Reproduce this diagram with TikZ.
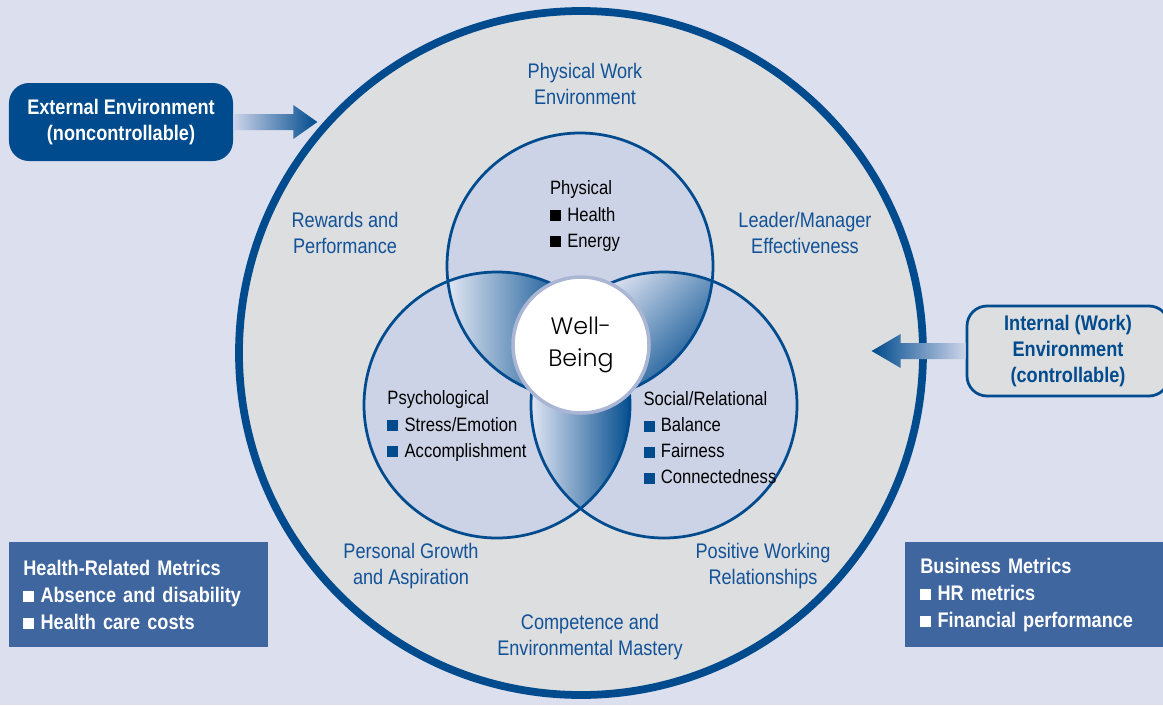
\documentclass[tikz,border=0pt]{standalone}
\usepackage{fontspec}
\setmainfont{Liberation Sans}[FakeStretch=0.86]
\newfontfamily\wbfont{Poppins Light}
\usetikzlibrary{positioning}

\definecolor{bglav}{RGB}{220,223,238}
\definecolor{ringgray}{RGB}{221,222,224}
\definecolor{ringblue}{RGB}{0,75,141}
\definecolor{vennfill}{RGB}{204,211,230}
\definecolor{labelblue}{RGB}{18,82,152}
\definecolor{metricblue}{RGB}{64,102,160}
\definecolor{wbborder}{RGB}{170,182,212}
\definecolor{lenslight}{RGB}{226,230,243}
\definecolor{arrowlight}{RGB}{205,212,234}

% small square bullet
\newcommand{\sqbul}[1]{{\color{#1}\rule{6.3pt}{6.3pt}}\hspace{3.5pt}}

\tikzset{
  ringlabel/.style={text=labelblue, align=center, font=\fontsize{12}{14.8}\selectfont},
  venntext/.style={align=left, inner sep=0pt, font=\fontsize{11}{14.8}\selectfont},
  vennring/.style={draw=ringblue, line width=0.55mm},
  metricbox/.style={fill=metricblue, text=white, align=left, anchor=north west,
    minimum height=21mm, inner xsep=2.8mm, font=\bfseries\fontsize{12}{15.4}\selectfont},
  envbox/.style={rounded corners=4mm, align=center, font=\bfseries\fontsize{12}{14.8}\selectfont},
}

\begin{document}
\begin{tikzpicture}[x=0.2mm,y=-0.2mm]
  \useasboundingbox[fill=bglav] (0,0) rectangle (1163,705);
  \clip (0,0) rectangle (1163,705);

  % outer ring
  \draw[line width=1.55mm, draw=ringblue, fill=ringgray] (581,353) circle[radius=342];

  % the three circles
  \coordinate (ctop) at (580,266);
  \coordinate (cleft) at (497,405);
  \coordinate (cright) at (664,405);
  \fill[vennfill] (ctop) circle[radius=133] (cleft) circle[radius=133] (cright) circle[radius=133];

  % shaded overlaps
  \begin{scope}
    \clip (ctop) circle[radius=133];
    \clip (cleft) circle[radius=133];
    \shade[left color=lenslight, right color=ringblue] (448,260) rectangle (575,400);
  \end{scope}
  \begin{scope}
    \clip (ctop) circle[radius=133];
    \clip (cright) circle[radius=133];
    \shade[top color=lenslight, bottom color=ringblue, shading angle=45] (585,265) rectangle (715,400);
  \end{scope}
  \begin{scope}
    \clip (cleft) circle[radius=133];
    \clip (cright) circle[radius=133];
    \shade[left color=lenslight, right color=ringblue] (530,300) rectangle (632,510);
  \end{scope}
  \draw[vennring] (ctop) circle[radius=133] (cleft) circle[radius=133] (cright) circle[radius=133];

  \node[circle, fill=white, draw=wbborder, line width=0.7mm, minimum size=27.2mm, align=center,
    text=black, font=\wbfont\fontsize{13.5}{18}\selectfont] (wellbeing) at (581,345) {Well-\\Being};

  % texts inside the circles
  \node[venntext] (physical) at (585,216) {Physical\\\sqbul{black}Health\\\sqbul{black}Energy};
  \node[venntext] (psych) at (457,426) {Psychological\\\sqbul{ringblue}Stress/Emotion\\\sqbul{ringblue}Accomplishment};
  \node[venntext] (social) at (710,438) {Social/Relational\\\sqbul{ringblue}Balance\\\sqbul{ringblue}Fairness\\\sqbul{ringblue}Connectedness};

  % labels around the ring
  \node[ringlabel] (physwork) at (585,84) {Physical Work\\Environment};
  \node[ringlabel] (rewards) at (345,233) {Rewards and\\Performance};
  \node[ringlabel] (leader) at (805,233) {Leader/Manager\\Effectiveness};
  \node[ringlabel] (growth) at (411,566) {Personal Growth\\and Aspiration};
  \node[ringlabel] (positive) at (763,566) {Positive Working\\Relationships};
  \node[ringlabel] (mastery) at (590,637) {Competence and\\Environmental Mastery};

  % environment boxes and their arrows
  \node[envbox, fill=ringblue, text=white, minimum width=44.8mm, minimum height=15.6mm] (extbox) at (121,122)
    {External Environment\\(noncontrollable)};
  \shade[left color=arrowlight, right color=ringblue] (extbox.east) ++(0,-8) -- ++(60,0) -- ++(0,-9)
    -- ++(24,17) -- ++(-24,17) -- ++(0,-9) -- ++(-60,0) -- cycle;

  \node[envbox, draw=ringblue, line width=0.55mm, fill=ringgray, text=ringblue, minimum width=40.4mm, minimum height=18mm] (intbox) at (1068,351)
    {Internal (Work)\\Environment\\(controllable)};
  \shade[left color=ringblue, right color=arrowlight] (intbox.west) ++(0,-8) -- ++(-65,0) -- ++(0,-9)
    -- ++(-29,17) -- ++(29,17) -- ++(0,-9) -- ++(65,0) -- cycle;

  % metrics
  \node[metricbox, minimum width=51.8mm, text width=46.2mm] (healthbox) at (9,542)
    {Health-Related Metrics\\\sqbul{white}Absence and disability\\\sqbul{white}Health care costs};
  \node[metricbox, minimum width=54mm, text width=48mm, inner xsep=3mm] (businessbox) at (905,542)
    {Business Metrics\\\sqbul{white}HR metrics\\\sqbul{white}Financial performance};
\end{tikzpicture}
\end{document}
